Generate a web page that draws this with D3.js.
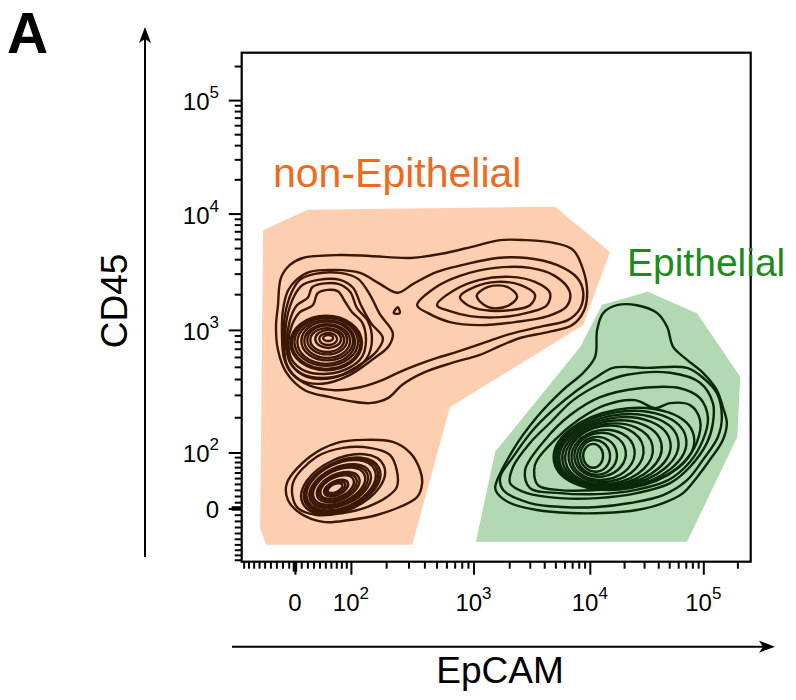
<!DOCTYPE html>
<html>
<head>
<meta charset="utf-8">
<script src="https://cdn.jsdelivr.net/npm/d3@7"></script>
<style>
  body { margin: 0; background: #fff; }
  svg { display: block; }
  text { font-family: "Liberation Sans", Arial, sans-serif; }
</style>
</head>
<body>
<svg id="chart" width="796" height="700"></svg>
<script>
// all shapes are in display channels: 0..1024 spans the 4.5 logicle decades of each axis
const nonEpiGate = [[43,667],[133,708],[630,714],[741,623],[687,476],[419,311],[343,34],[49,34],[37,68]];
const epiGate = [[725,517],[817,543],[916,500],[1003,372],[997,251],[896,40],[471,40],[510,221],[681,432]];

// contour rings (CD45+ populations)
const nonEpiRings = [
  [[123,611],[198,617],[258,615],[339,611],[399,619],[469,635],[520,647],[570,647],[630,641],[667,627],[687,587],[695,543],[689,506],[665,476],[616,462],[560,450],[520,434],[479,416],[423,400],[365,380],[323,356],[294,329],[258,319],[218,323],[178,331],[127,345],[89,382],[73,426],[69,472],[73,516],[79,571],[97,597]],
  [[110,567],[137,583],[188,587],[238,581],[278,559],[314,541],[345,559],[393,583],[445,597],[514,611],[574,611],[634,597],[675,571],[687,543],[681,510],[656,486],[606,474],[554,462],[514,450],[475,436],[433,422],[393,410],[353,396],[314,380],[284,366],[238,351],[188,345],[137,354],[101,378],[85,410],[81,456],[83,506],[93,545]],
  [[101,543],[117,567],[147,579],[198,581],[234,569],[258,537],[278,498],[304,460],[296,434],[262,406],[214,374],[162,358],[117,366],[91,396],[85,446],[87,496]],
  [[107,537],[123,557],[154,567],[198,567],[224,551],[240,516],[260,480],[284,450],[272,424],[234,394],[184,370],[131,372],[99,398],[88,442],[91,490]],
  [[111,516],[133,531],[143,553],[194,559],[218,543],[232,510],[254,484],[262,446],[252,410],[222,384],[172,370],[121,378],[97,402],[91,442],[97,486]],
  [[117,502],[143,516],[154,541],[192,545],[208,523],[222,502],[242,482],[250,446],[242,412],[216,390],[172,378],[127,384],[101,406],[94,442],[101,476]],
  [[353,516],[389,551],[439,575],[510,591],[580,591],[630,575],[660,543],[654,514],[616,494],[550,482],[479,476],[419,482],[375,500]],
  [[393,516],[429,547],[479,567],[540,573],[590,563],[620,541],[614,516],[580,502],[520,492],[459,494],[419,504]],
  [[439,533],[469,553],[514,563],[560,557],[590,537],[580,516],[540,506],[489,506],[455,516]],
  [[473,535],[496,553],[534,553],[554,533],[534,514],[496,512]],
  [[306,500],[314,512],[318,500]],
  [[91,158],[137,211],[192,239],[244,245],[304,241],[339,219],[359,184],[363,158],[353,130],[318,110],[272,94],[218,84],[164,80],[117,98],[93,124]],
  [[103,158],[151,211],[204,229],[258,229],[298,215],[312,184],[312,150],[292,130],[252,110],[204,98],[151,94],[111,110]]
];
// dense cores: [cx, cy, rx, ry, tilt in degrees]
const nonEpiCores = [
  [174,450,10,6,0],[174,448,18,12,0],[174,448,26,18,0],[172,446,34,24,0],[172,446,40,29,0],[172,444,46,34,0],
  [172,444,52,39,0],[170,442,58,44,0],[170,442,64,48,0],[170,440,69,52,0],[170,440,72,55,0],
  [188,148,16,8,25],[189,148,21,11,25],[190,148,26,14,25],[192,150,36,20,25],[193,150,41,23,25],[194,150,46,26,25],
  [196,152,56,32,25],[197,152,61,35,25],[198,152,66,38,25],[200,154,74,44,25],[201,154,78,46,25],[202,154,82,48,25],
  [204,156,90,52,25]
];

const epiRings = [
  [[510,150],[546,225],[594,291],[646,345],[687,380],[711,412],[715,466],[727,500],[755,516],[795,516],[836,500],[856,472],[868,432],[896,406],[928,380],[956,345],[968,311],[976,279],[968,245],[942,205],[916,170],[888,138],[848,118],[795,104],[727,98],[661,98],[594,104],[540,118],[514,138]],
  [[747,390],[815,390],[896,390],[928,370],[956,339],[966,291],[958,251],[928,205],[896,164],[848,134],[781,118],[715,110],[646,110],[580,118],[526,144],[520,170],[546,211],[586,265],[626,305],[675,345],[715,372]],
  [[727,360],[775,376],[862,380],[922,360],[948,319],[948,279],[936,239],[902,191],[862,158],[795,138],[715,128],[640,128],[574,138],[540,158],[546,191],[580,239],[620,279],[667,325]],
  [[610,245],[661,295],[721,331],[801,349],[882,349],[922,329],[938,289],[928,245],[902,201],[858,164],[791,144],[715,136],[640,138],[580,148],[570,184]],
  [[630,245],[677,285],[731,315],[791,325],[832,309],[862,319],[902,315],[922,285],[916,241],[888,199],[842,168],[781,150],[711,144],[640,144],[596,154],[590,195]]
];
const epiCores = [
  [707,213,20,24,0],[711,213,30,32,10],[715,213,40,38,10],[721,215,52,44,10],[727,215,64,50,10],[733,217,76,56,10],
  [739,217,89,60,10],[745,219,101,64,10],[751,221,113,68,10],[757,223,123,72,10],[763,225,133,76,10],[769,227,143,80,10]
];

const labelValues = [0, 1e2, 1e3, 1e4, 1e5];
const labelExps = ["", "2", "3", "4", "5"];

// logicle (T=262144, M=4.5, W~0.47)
const T = 262144, M = 4.5, P = 2.2;
const W = 2 * P * Math.log10(P) / (P + 1);
const C = T * Math.pow(10, -(M - W));
function S(d) {
  if (d >= W) return C * (Math.pow(10, d - W) - P * P * Math.pow(10, -(d - W) / P) + P * P - 1);
  return -S(2 * W - d);
}
function chan(v) {
  let lo = -1, hi = M + 1;
  for (let i = 0; i < 60; i++) {
    const mid = (lo + hi) / 2;
    if (S(mid) < v) lo = mid; else hi = mid;
  }
  return (lo + hi) / 2 / M * 1024;
}

let tickList = [{v: 0, major: true}];
d3.range(1, 10).forEach(k => { tickList.push({v: k * 10, major: false}); tickList.push({v: -k * 10, major: false}); });
d3.range(2, 6).forEach(e => d3.range(1, 10).forEach(k => {
  tickList.push({v: k * Math.pow(10, e), major: k === 1});
  tickList.push({v: -k * Math.pow(10, e), major: false});
}));
tickList = tickList.map(t => ({c: chan(t.v), major: t.major})).filter(t => t.c >= 0 && t.c <= 1024);

const svg = d3.select("#chart");
const x = d3.scaleLinear().domain([0, 1024]).range([241.7, 750.7]);
const y = d3.scaleLinear().domain([0, 1024]).range([561.7, 52.7]);

const gateLine = d3.line().x(d => x(d[0])).y(d => y(d[1])).curve(d3.curveLinearClosed);
svg.append("path").attr("d", gateLine(nonEpiGate)).attr("fill", "#fdcfb0");
svg.append("path").attr("d", gateLine(epiGate)).attr("fill", "#b2d9b2");

const ringLine = d3.line().x(d => x(d[0])).y(d => y(d[1])).curve(d3.curveCatmullRomClosed.alpha(0.5));

function drawPop(rings, cores, color) {
  const g = svg.append("g")
      .attr("fill", "none")
      .attr("stroke", color)
      .attr("stroke-width", 2.4)
      .attr("stroke-linejoin", "round");
  g.selectAll("path").data(rings).join("path").attr("d", ringLine);
  g.selectAll("ellipse").data(cores).join("ellipse")
      .attr("cx", d => x(d[0]))
      .attr("cy", d => y(d[1]))
      .attr("rx", d => x(d[2]) - x(0))
      .attr("ry", d => y(0) - y(d[3]))
      .attr("transform", d => `rotate(${-d[4]},${x(d[0])},${y(d[1])})`);
}
drawPop(nonEpiRings, nonEpiCores, "#3a1805");
drawPop(epiRings, epiCores, "#0a280a");

// frame
svg.append("rect")
    .attr("x", x(0)).attr("y", y(1024))
    .attr("width", x(1024) - x(0)).attr("height", y(0) - y(1024))
    .attr("fill", "none").attr("stroke", "#000").attr("stroke-width", 2.2);

// ticks
function tickAxis(axisFn, major, size, transform) {
  const g = svg.append("g")
      .attr("transform", transform)
      .call(axisFn.tickValues(tickList.filter(t => t.major === major).map(t => t.c))
          .tickSize(size).tickSizeOuter(0).tickFormat(""));
  g.select(".domain").remove();
  g.selectAll("line").attr("stroke-width", 2);
}
tickAxis(d3.axisBottom(x), false, 7, `translate(0,${y(0)})`);
tickAxis(d3.axisBottom(x), true, 13, `translate(0,${y(0)})`);
tickAxis(d3.axisLeft(y), false, 7, `translate(${x(0)},0)`);
tickAxis(d3.axisLeft(y), true, 13, `translate(${x(0)},0)`);
// the bunched ticks around zero
svg.append("line").attr("x1", x(chan(0))).attr("x2", x(chan(0))).attr("y1", y(0)).attr("y2", y(0) + 10)
    .attr("stroke", "#000").attr("stroke-width", 4.5);
svg.append("line").attr("y1", y(chan(0))).attr("y2", y(chan(0))).attr("x1", x(0)).attr("x2", x(0) - 10)
    .attr("stroke", "#000").attr("stroke-width", 4.5);

// tick labels
function addLabel(sel, i) {
  sel.append("tspan").text(labelExps[i] ? "10" : "0");
  if (labelExps[i]) sel.append("tspan").attr("dy", -12).attr("font-size", 17).text(labelExps[i]);
}
labelValues.forEach((v, i) => {
  const tx = svg.append("text").attr("x", x(chan(v))).attr("y", 611)
      .attr("text-anchor", "middle").attr("font-size", 24);
  addLabel(tx, i);
  const ty = svg.append("text").attr("x", 219).attr("y", y(chan(v)) + 10)
      .attr("text-anchor", "end").attr("font-size", 24);
  addLabel(ty, i);
});

// axis arrows
svg.append("line").attr("x1", 145).attr("x2", 145).attr("y1", 557).attr("y2", 36)
    .attr("stroke", "#000").attr("stroke-width", 2);
svg.append("path").attr("d", "M145,27 L151,43 L145,39 L139,43 Z").attr("fill", "#000");
svg.append("line").attr("x1", 232).attr("x2", 766).attr("y1", 646.7).attr("y2", 646.7)
    .attr("stroke", "#000").attr("stroke-width", 2);
svg.append("path").attr("d", "M775,646.7 L759,640.7 L763,646.7 L759,652.7 Z").attr("fill", "#000");

// titles
svg.append("text").attr("transform", "translate(127,301) rotate(-90)")
    .attr("text-anchor", "middle").attr("font-size", 37).text("CD45");
svg.append("text").attr("x", 500).attr("y", 683).attr("text-anchor", "middle")
    .attr("font-size", 37).text("EpCAM");
svg.append("text").attr("x", 7).attr("y", 53).attr("font-size", 57).attr("font-weight", "bold").text("A");

svg.append("text").attr("x", 273).attr("y", 187).attr("font-size", 41).attr("fill", "#f06a1e").text("non-Epithelial");
svg.append("text").attr("x", 627).attr("y", 276).attr("font-size", 39).attr("fill", "#1f8a1f").text("Epithelial");
</script>
</body>
</html>
